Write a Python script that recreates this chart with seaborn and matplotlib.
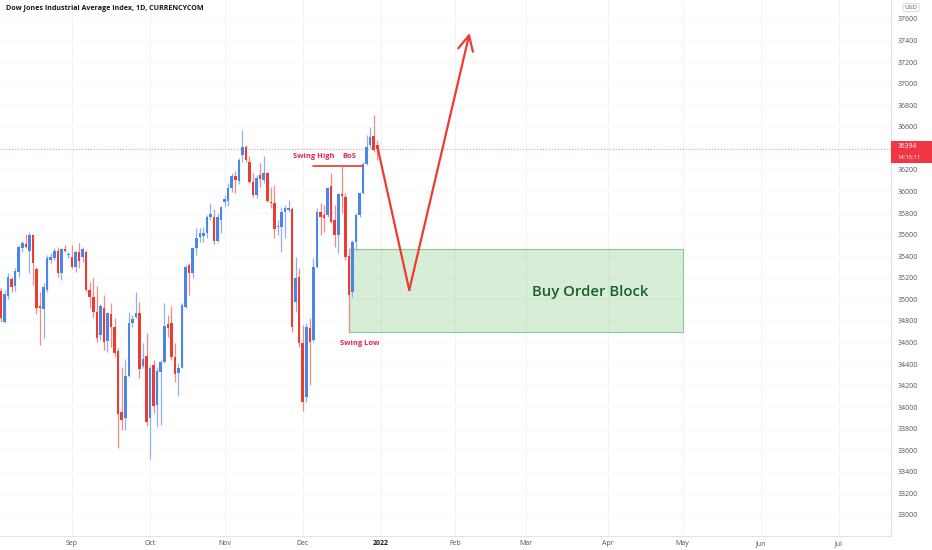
import numpy as np
import pandas as pd
import matplotlib
matplotlib.use("Agg")
import matplotlib.pyplot as plt
import matplotlib.transforms as mtrans
from matplotlib.patches import Rectangle
import seaborn as sns

# daily candles, first bar 2021-08-04 (weekdays only)
opens = [35080, 34793, 35034, 35185, 35123, 35256, 35473, 35510, 35448, 35596,
         35281, 34941, 34910, 35086, 35365, 35380, 35448, 35247, 35463, 35414,
         35395, 35303, 35436, 35395, 35442, 35086, 35025, 34886, 34669, 34916,
         34617, 34861, 34740, 34524, 33952, 33896, 34289, 34777, 34833, 34870,
         34385, 34474, 33896, 34391, 34020, 34329, 34422, 34771, 34777, 34468,
         34314, 34366, 34932, 35318, 35241, 35473, 35575, 35587, 35612, 35760,
         35767, 35544, 35736, 35906, 35915, 36029, 36144, 36097, 36338, 36410,
         36277, 36091, 35968, 36153, 36107, 36168, 35906, 35890, 35668, 35674,
         35807, 35828, 35838, 34978, 35210, 34592, 34097, 34737, 34623, 35303,
         35807, 35782, 35782, 36051, 35736, 35596, 35977, 35952, 35402, 35071,
         35535, 35782, 35983, 36252, 36431, 36518, 36431]
highs = [35108, 35086, 35247, 35210, 35287, 35504, 35541, 35602, 35627, 35602,
         35303, 35071, 35148, 35411, 35426, 35473, 35488, 35479, 35504, 35442,
         35504, 35457, 35519, 35488, 35457, 35164, 35195, 35124, 34957, 35040,
         34886, 34963, 34824, 34545, 34376, 34444, 34886, 34855, 35071, 34978,
         34592, 34685, 34391, 34437, 34376, 34437, 34963, 34855, 34938, 34592,
         34406, 34963, 35318, 35334, 35488, 35658, 35658, 35668, 35782, 35896,
         35835, 35804, 35866, 35968, 36076, 36175, 36193, 36308, 36570, 36431,
         36329, 36168, 36153, 36267, 36329, 36184, 36045, 36060, 35736, 35859,
         35875, 35921, 35859, 35396, 35287, 34762, 34777, 34824, 35380, 35844,
         35890, 35875, 36045, 36168, 35875, 35983, 36236, 35983, 35473, 35550,
         35797, 35998, 36277, 36524, 36601, 36709, 36478]
lows = [34793, 34777, 35003, 35071, 35077, 35210, 35442, 35473, 35241, 35133,
        34861, 34577, 34638, 35071, 35334, 35365, 35210, 35179, 35442, 35386,
        35287, 35256, 35287, 35349, 35071, 34916, 34824, 34607, 34623, 34530,
        34515, 34561, 34468, 33618, 33788, 33788, 34283, 34746, 34824, 34267,
        34360, 33825, 33516, 33943, 33813, 33835, 34406, 34654, 34437, 34236,
        34103, 34360, 34916, 35040, 35195, 35411, 35535, 35535, 35566, 35736,
        35513, 35535, 35612, 35853, 35866, 35998, 35989, 36070, 36277, 36277,
        36076, 35946, 35937, 36045, 36076, 35906, 35844, 35566, 35597, 35442,
        35566, 35813, 34700, 34886, 34561, 33964, 34051, 34206, 34607, 35287,
        35596, 35627, 35767, 35705, 35488, 35426, 35797, 35365, 34697, 35025,
        35457, 35767, 35974, 36246, 36400, 36369, 36292]
closes = [34830, 35049, 35210, 35117, 35262, 35488, 35525, 35488, 35596, 35334,
          34916, 34923, 35117, 35380, 35389, 35448, 35247, 35463, 35448, 35420,
          35303, 35442, 35355, 35466, 35086, 35025, 34886, 34638, 34938, 34607,
          34870, 34740, 34499, 33937, 33881, 34289, 34784, 34817, 34870, 34351,
          34447, 33865, 34360, 34011, 34338, 34422, 34753, 34731, 34462, 34308,
          34366, 34947, 35303, 35241, 35473, 35566, 35612, 35612, 35760, 35788,
          35544, 35767, 35853, 35927, 36029, 36144, 36107, 36292, 36416, 36292,
          36091, 35968, 36122, 36113, 36175, 35915, 35890, 35649, 35677, 35813,
          35844, 35850, 34746, 35195, 34592, 34051, 34746, 34601, 35303, 35807,
          35767, 35757, 36029, 35720, 35596, 35974, 35961, 35396, 35040, 35535,
          35782, 35983, 36252, 36416, 36508, 36385, 36394]

last_price = 36394
countdown = "14:15:11"
swing_high = 36236
box_top, box_bottom = 35467, 34697
box_dates = ["2021-12-20", "2022-05-02"]
swing_line_dates = ["2021-12-06", "2021-12-27"]
arrow_dates = ["2021-12-31", "2022-01-13", "2022-02-07"]
arrow_prices = [36420, 35086, 37470]

month_labels = ["Sep", "Oct", "Nov", "Dec", "2022", "Feb", "Mar", "Apr", "May", "Jun", "Jul"]
month_dates = ["2021-09-01", "2021-10-01", "2021-11-01", "2021-12-01", "2022-01-03",
               "2022-02-01", "2022-03-01", "2022-04-01", "2022-05-02", "2022-06-01",
               "2022-07-01"]

UP, DOWN = "#4a86e8", "#ec3b30"
UP_WICK, DOWN_WICK = "#8fb1ef", "#f28b84"
NOTE = "#e5245a"

# trading days (no bar on Christmas Eve)
bars = pd.bdate_range("2021-08-04", "2022-07-29", freq="C", holidays=["2021-12-24"])
def pos(d):
    return bars.get_loc(pd.Timestamp(d))

df = pd.DataFrame({"Open": opens, "High": highs, "Low": lows, "Close": closes})
df["x"] = np.arange(len(df))
df["up"] = df["Close"] >= df["Open"]

sns.set_theme(style="white")
plt.rcParams["font.family"] = ["Open Sans", "DejaVu Sans"]

fig = plt.figure(figsize=(9.32, 5.5), dpi=100)
ax = fig.add_axes([0, 14 / 550, 891 / 932, 536 / 550])

# faint grid
month_x = [pos(d) for d in month_dates]
for mx in month_x:
    ax.axvline(mx, color="#f2f3f6", lw=0.8, zorder=0)
for p in range(33000, 37700, 200):
    ax.axhline(p, color="#f9fafb", lw=0.8, zorder=0)

# order block
bx0, bx1 = pos(box_dates[0]), pos(box_dates[1])
ax.add_patch(Rectangle((bx0, box_bottom), bx1 - bx0, box_top - box_bottom,
                       facecolor="#4caf50", alpha=0.22, edgecolor="none", zorder=1))
ax.add_patch(Rectangle((bx0, box_bottom), bx1 - bx0, box_top - box_bottom,
                       facecolor="none", edgecolor="#8cc98f", lw=0.8, zorder=1))

# candles
wick_cols = np.where(df["up"], UP_WICK, DOWN_WICK)
body_cols = np.where(df["up"], UP, DOWN)
ax.vlines(df["x"], df["Low"], df["High"], colors=wick_cols, lw=0.9, zorder=2)
body_lo = df[["Open", "Close"]].min(axis=1)
body_h = np.maximum((df["Close"] - df["Open"]).abs(), 9)
ax.bar(df["x"], body_h, bottom=body_lo, width=0.72, color=body_cols, linewidth=0, zorder=3)

# last price line
ax.axhline(last_price, color="#ef5350", lw=0.7, ls=(0, (1, 2)), alpha=0.7, zorder=1)

# swing high / BoS
sx = [pos(d) for d in swing_line_dates]
ax.plot(sx, [swing_high, swing_high], color="#e24a3f", lw=1.3, zorder=4)
ax.text(pos("2021-12-06"), 36320, "Swing High", color=NOTE, fontsize=5.4,
        fontweight="bold", ha="center", va="center")
ax.text(pos("2021-12-20"), 36320, "BoS", color=NOTE, fontsize=5.4,
        fontweight="bold", ha="center", va="center")
ax.text(pos("2021-12-23"), 34586, "Swing Low", color=NOTE, fontsize=5.4,
        fontweight="bold", ha="center", va="center")
ax.text(pos("2022-03-25"), 35068, "Buy Order Block", color="#1b5e2b", fontsize=10.7,
        fontweight="semibold", ha="center", va="center")

# projected path
ax_x = [pos(d) for d in arrow_dates]
sns.lineplot(x=ax_x[:2], y=arrow_prices[:2], ax=ax, color="#ef3b2f", lw=1.6,
             sort=False, zorder=5)
ax.annotate("", xy=(ax_x[2], arrow_prices[2]), xytext=(ax_x[1], arrow_prices[1]),
            arrowprops=dict(arrowstyle="->,head_length=0.9,head_width=0.45",
                            color="#ef3b2f", lw=1.6, shrinkA=0, shrinkB=0),
            zorder=5)

# axes (the scale label under the price tag is hidden, as on the chart)
ax.set_xlim(-0.28, 250.7)
ax.set_ylim(32805, 37776)
ax.yaxis.tick_right()
ax.set_yticks([p for p in range(33000, 37700, 200) if abs(p - last_price) > 100])
ax.set_xticks(month_x)
ax.set_xticklabels(month_labels)
ax.tick_params(axis="both", length=0, labelsize=5.0, labelcolor="#50535e")
ax.tick_params(axis="y", pad=4.5)
ax.tick_params(axis="x", pad=3)
for lab in ax.get_xticklabels():
    if lab.get_text() == "2022":
        lab.set_fontweight("bold")
        lab.set_color("#131722")
for side in ["left", "top"]:
    ax.spines[side].set_visible(False)
for side in ["right", "bottom"]:
    ax.spines[side].set_color("#e0e3eb")
    ax.spines[side].set_linewidth(0.8)

# price tag on the scale
blend = mtrans.blended_transform_factory(ax.transAxes, ax.transData)
ax.add_patch(Rectangle((1.0, 36262), 41 / 891, 205, transform=blend,
                       facecolor="#f23645", edgecolor="none", clip_on=False, zorder=6))
ax.text(1.007, 36420, str(last_price), transform=blend, color="white", fontsize=4.8,
        ha="left", va="center", zorder=7)
ax.text(1.007, 36312, countdown, transform=blend, color="white", fontsize=4.2,
        ha="left", va="center", zorder=7)

fig.text(6 / 932, 1 - 9 / 550, "Dow Jones Industrial Average Index, 1D, CURRENCYCOM",
         fontsize=5.1, fontweight="bold", color="#131722", ha="left", va="center")
fig.text(911 / 932, 1 - 7.5 / 550, "USD", fontsize=4.6, color="#50535e",
         ha="center", va="center",
         bbox=dict(boxstyle="round,pad=0.25", fc="white", ec="#d1d4dc", lw=0.6))

fig.savefig("out.png", dpi=100, facecolor="white")
